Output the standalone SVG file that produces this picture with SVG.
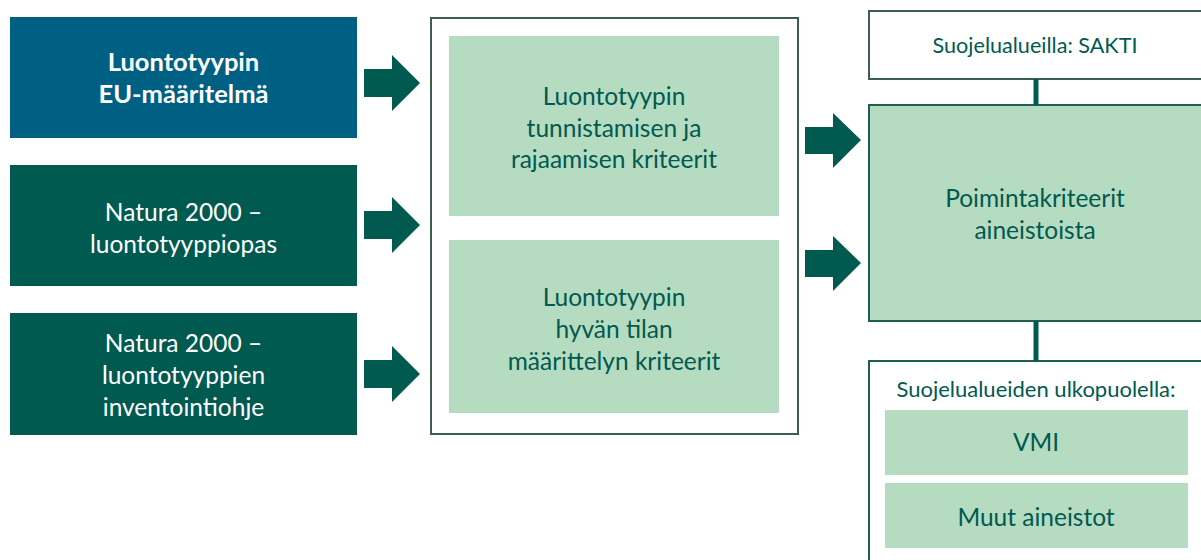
<svg xmlns="http://www.w3.org/2000/svg" width="1201" height="560" viewBox="0 0 1201 560">
<style>
text{font-family:Lato,"Open Sans","Liberation Sans",sans-serif;font-size:24.5px;text-anchor:middle}
text.b{font-weight:bold;font-size:25.5px}
text.s{font-size:21.6px}
text.s2{font-size:22px}
.w{fill:#ffffff}
.g{fill:#005a50}
.light{fill:#b5dbc1}
.arrow{fill:#005a50}
</style>
<rect width="1201" height="560" fill="#ffffff"/>
<g id="n-eu">
<rect x="10" y="17" width="347" height="121" fill="#006084"/>
<text class="w b" x="183.5" y="71">Luontotyypin</text>
<text class="w b" x="183.5" y="103">EU-määritelmä</text>
</g>
<g id="n-opas">
<rect x="10" y="165" width="347" height="121" fill="#005a50"/>
<text class="w" x="183.5" y="221">Natura 2000 –</text>
<text class="w" x="183.5" y="253">luontotyyppiopas</text>
</g>
<g id="n-ohje">
<rect x="10" y="313" width="347" height="122" fill="#005a50"/>
<text class="w" x="183.5" y="352">Natura 2000 –</text>
<text class="w" x="183.5" y="384">luontotyyppien</text>
<text class="w" x="183.5" y="416">inventointiohje</text>
</g>
<g id="n-kriteerit">
<rect x="431" y="18" width="367" height="416" fill="#ffffff" stroke="#3c5f4b" stroke-width="2"/>
<rect x="449" y="36" width="330" height="180" class="light"/>
<text class="g" x="614" y="105">Luontotyypin</text>
<text class="g" x="614" y="137">tunnistamisen ja</text>
<text class="g" x="614" y="168">rajaamisen kriteerit</text>
<rect x="449" y="240" width="330" height="173" class="light"/>
<text class="g" x="614" y="306">Luontotyypin</text>
<text class="g" x="614" y="338">hyvän tilan</text>
<text class="g" x="614" y="370">määrittelyn kriteerit</text>
</g>
<g id="n-sakti">
<rect x="869" y="11" width="334" height="68" fill="#ffffff" stroke="#3c5f4b" stroke-width="2"/>
<text class="g s" x="1035" y="53">Suojelualueilla: SAKTI</text>
</g>
<g id="n-poiminta">
<rect x="869" y="105" width="334" height="216" fill="#b5dbc1" stroke="#1f5f52" stroke-width="2"/>
<text class="g" x="1035" y="207">Poimintakriteerit</text>
<text class="g" x="1035" y="239">aineistoista</text>
</g>
<g id="n-ulko">
<rect x="869" y="361" width="334" height="210" fill="#ffffff" stroke="#1f5f52" stroke-width="2"/>
<text class="g s2" x="1036" y="397">Suojelualueiden ulkopuolella:</text>
<rect x="885" y="410" width="303" height="65" class="light"/>
<text class="g" x="1036" y="451">VMI</text>
<rect x="885" y="483" width="303" height="65" class="light"/>
<text class="g" x="1036" y="526">Muut aineistot</text>
</g>
<g id="connectors">
<path class="arrow" d="M364,69 H392 V55 L420,83 L392,111 V97 H364 Z"/>
<path class="arrow" d="M364,211 H392 V197 L420,225 L392,253 V239 H364 Z"/>
<path class="arrow" d="M364,360 H392 V346 L420,374 L392,402 V388 H364 Z"/>
<path class="arrow" d="M805,127 H833 V113 L861,140 L833,168 V154 H805 Z"/>
<path class="arrow" d="M805,250 H833 V236 L861,263 L833,291 V277 H805 Z"/>
<line x1="1036" y1="79" x2="1036" y2="105" stroke="#005a50" stroke-width="5"/>
<line x1="1036" y1="321" x2="1036" y2="361" stroke="#005a50" stroke-width="5"/>
</g>
</svg>
